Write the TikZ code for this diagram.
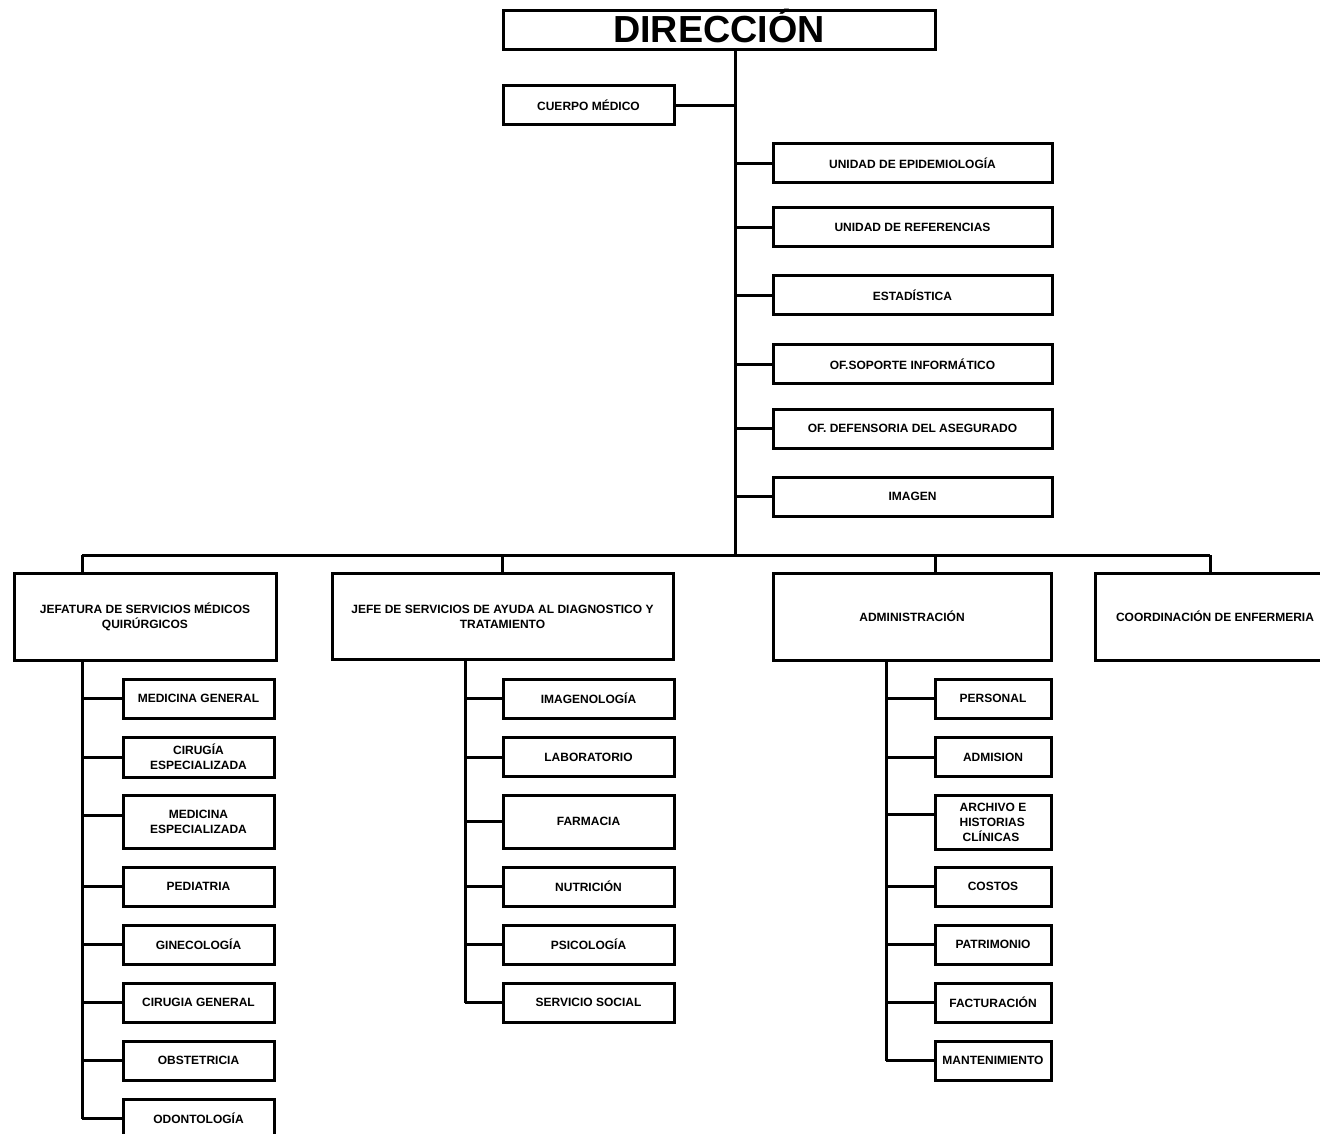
\documentclass[tikz,border=0pt]{standalone}
\usepackage{fontspec}
\setmainfont{Liberation Sans}
\begin{document}
\begin{tikzpicture}[x=1pt,y=-1pt,
  box/.style={draw, line width=3pt, inner sep=0pt, align=center, font=\fontsize{12}{15}\selectfont\bfseries, minimum height=39pt},
  conn/.style={line width=3pt}]
\useasboundingbox (0,0) rectangle (1320,1134);
\clip (0,0) rectangle (1320,1134);
% top
\node[box, minimum width=432pt, font=\fontsize{37.7}{40}\selectfont\bfseries, text height=25pt, text depth=0pt] (dir) at (719,30.5) {DIRECCIÓN};
\node[box, minimum width=171pt] (cm) at (588.5,105.5) {CUERPO MÉDICO};
\node[box, minimum width=279pt] (epi) at (912.5,163.5) {UNIDAD DE EPIDEMIOLOGÍA};
\node[box, minimum width=279pt] (ref) at (912.5,227.5) {UNIDAD DE REFERENCIAS};
\node[box, minimum width=279pt] (est) at (912.5,295) {ESTADÍSTICA};
\node[box, minimum width=279pt] (sop) at (912.5,364) {OF.SOPORTE INFORMÁTICO};
\node[box, minimum width=279pt] (def) at (912.5,428.5) {OF. DEFENSORIA DEL ASEGURADO};
\node[box, minimum width=279pt] (img) at (912.5,496.5) {IMAGEN};
\coordinate (t0) at (735,555);
\draw[conn] (dir.south -| t0) -- (t0);
\draw[conn] (cm.east) -- (cm.east -| t0);
\foreach \n in {epi,ref,est,sop,def,img} \draw[conn] (\n.west) -- (\n.west -| t0);
% level 2
\node[box, minimum width=262pt, minimum height=87pt] (jef) at (145,616.5) {JEFATURA DE SERVICIOS MÉDICOS\\QUIRÚRGICOS};
\node[box, minimum width=341pt, minimum height=86pt] (jefe) at (502.5,616.5) {JEFE DE SERVICIOS DE AYUDA AL DIAGNOSTICO Y\\TRATAMIENTO};
\node[box, minimum width=278pt, minimum height=87pt] (adm) at (912,616.5) {ADMINISTRACIÓN};
\node[box, minimum width=240pt, minimum height=87pt] (coord) at (1215,616.5) {COORDINACIÓN DE ENFERMERIA};
\coordinate (bL) at (82,555);
\coordinate (bR) at (1210,555);
\coordinate (bA) at (935,555);
\draw[conn] (bL) -- (bR);
\draw[conn] (bL) -- (jef.north -| bL);
\draw[conn] (jefe.north |- bL) -- (jefe.north);
\draw[conn] (bA) -- (adm.north -| bA);
\draw[conn] (bR) -- (coord.north -| bR);
% column 1
\node[box, minimum width=151pt] (mg) at (198.5,698.5) {MEDICINA GENERAL};
\node[box, minimum width=151pt, minimum height=40pt] (ce) at (198.5,757) {CIRUGÍA\\ESPECIALIZADA};
\node[box, minimum width=151pt, minimum height=53pt] (me) at (198.5,821.5) {MEDICINA\\ESPECIALIZADA};
\node[box, minimum width=151pt] (ped) at (198.5,886.5) {PEDIATRIA};
\node[box, minimum width=151pt] (gin) at (198.5,944.5) {GINECOLOGÍA};
\node[box, minimum width=151pt] (cg) at (198.5,1002.5) {CIRUGIA GENERAL};
\node[box, minimum width=151pt] (obs) at (198.5,1060.5) {OBSTETRICIA};
\node[box, minimum width=151pt] (odo) at (198.5,1118.5) {ODONTOLOGÍA};
\coordinate (c1) at (82,1118.5);
\draw[conn] (jef.south -| c1) -- (c1);
\foreach \n in {mg,ce,ped,gin,cg,obs,odo} \draw[conn] (\n.west) -- (\n.west -| c1);
\draw[conn] ([yshift=6pt]me.west) -- ([yshift=6pt]me.west -| c1);
% column 2
\node[box, minimum width=171pt] (imgl) at (588.5,698.5) {IMAGENOLOGÍA};
\node[box, minimum width=171pt] (lab) at (588.5,757) {LABORATORIO};
\node[box, minimum width=171pt, minimum height=53pt] (farm) at (588.5,821.5) {FARMACIA};
\node[box, minimum width=171pt] (nut) at (588.5,886.5) {NUTRICIÓN};
\node[box, minimum width=171pt] (psi) at (588.5,944.5) {PSICOLOGÍA};
\node[box, minimum width=171pt] (ss) at (588.5,1002.5) {SERVICIO SOCIAL};
\coordinate (c2) at (465,1002.5);
\draw[conn] (jefe.south -| c2) -- (c2);
\foreach \n in {imgl,lab,farm,nut,psi,ss} \draw[conn] (\n.west) -- (\n.west -| c2);
% column 3
\node[box, minimum width=116pt] (per) at (993,698.5) {PERSONAL};
\node[box, minimum width=116pt] (adn) at (993,757) {ADMISION};
\node[box, minimum width=116pt, minimum height=54pt, align=left] (arch) at (993,822) {ARCHIVO E\\HISTORIAS\\\hspace{3pt}CLÍNICAS};
\node[box, minimum width=116pt] (cos) at (993,886.5) {COSTOS};
\node[box, minimum width=116pt] (pat) at (993,944.5) {PATRIMONIO};
\node[box, minimum width=116pt] (fac) at (993,1002.5) {FACTURACIÓN};
\node[box, minimum width=116pt] (man) at (993,1060.5) {MANTENIMIENTO};
\coordinate (c3) at (886,1060.5);
\draw[conn] (adm.south -| c3) -- (c3);
\foreach \n in {per,adn,cos,pat,fac,man} \draw[conn] (\n.west) -- (\n.west -| c3);
\draw[conn] ([yshift=8pt]arch.west) -- ([yshift=8pt]arch.west -| c3);
\end{tikzpicture}
\end{document}
